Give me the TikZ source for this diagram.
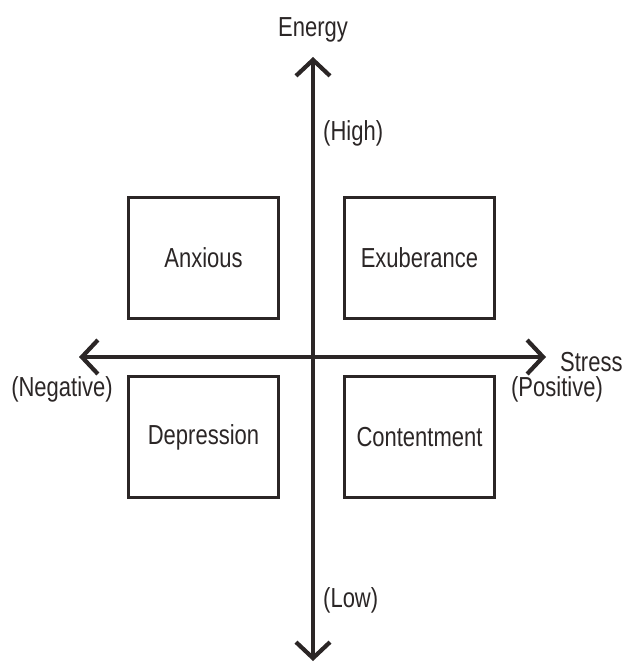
\documentclass[tikz,border=0pt]{standalone}
\usepackage{fontspec}
\setmainfont{Liberation Sans}[FakeStretch=0.8]
\usepackage{xcolor}
\definecolor{inkgrey}{HTML}{2B2626}
\usepackage{tikz}
\usetikzlibrary{arrows.meta,positioning}

\begin{document}
\begin{tikzpicture}[
  x=1pt,y=-1pt,
  quad/.style={draw=inkgrey,line width=2.2pt,minimum width=150pt,minimum height=121pt,font=\fontsize{27.5}{31}\selectfont,text=inkgrey},
  lbl/.style={inner sep=0pt,font=\fontsize{27.5}{31}\selectfont,text=inkgrey},
  axis/.style={{Straight Barb[length=16pt,width=34pt,line width=4.2pt]}-{Straight Barb[length=16pt,width=34pt,line width=4.2pt]},line width=4.2pt,draw=inkgrey}
]
\useasboundingbox (0,0) rectangle (622,663);
% axis ends
\coordinate (top) at (313,57);
\coordinate (bottom) at (313,661);
\coordinate (left) at (79,357);
\coordinate (right) at (546,357);
% quadrants
\node[quad] (anx) at (203.5,258) {Anxious};
\node[quad] (exu) at (419.5,258) {Exuberance};
\node[quad] (dep) at (203.5,437) {Depression};
\node[quad] (con) at (419.5,437) {Contentment};
% axis labels
\node[lbl] (energy) at (313,30) {Energy};
\node[lbl,anchor=west] (high) at (323,133) {(High)};
\node[lbl,anchor=west] (low) at (323,600) {(Low)};
\node[lbl,anchor=west] (stress) at (560,362) {Stress};
\node[lbl] (neg) at (62,389) {(Negative)};
\node[lbl] (pos) at (557,389) {(Positive)};
\draw[axis] (bottom) -- (top);
\draw[axis] (left) -- (right);
\end{tikzpicture}
\end{document}
